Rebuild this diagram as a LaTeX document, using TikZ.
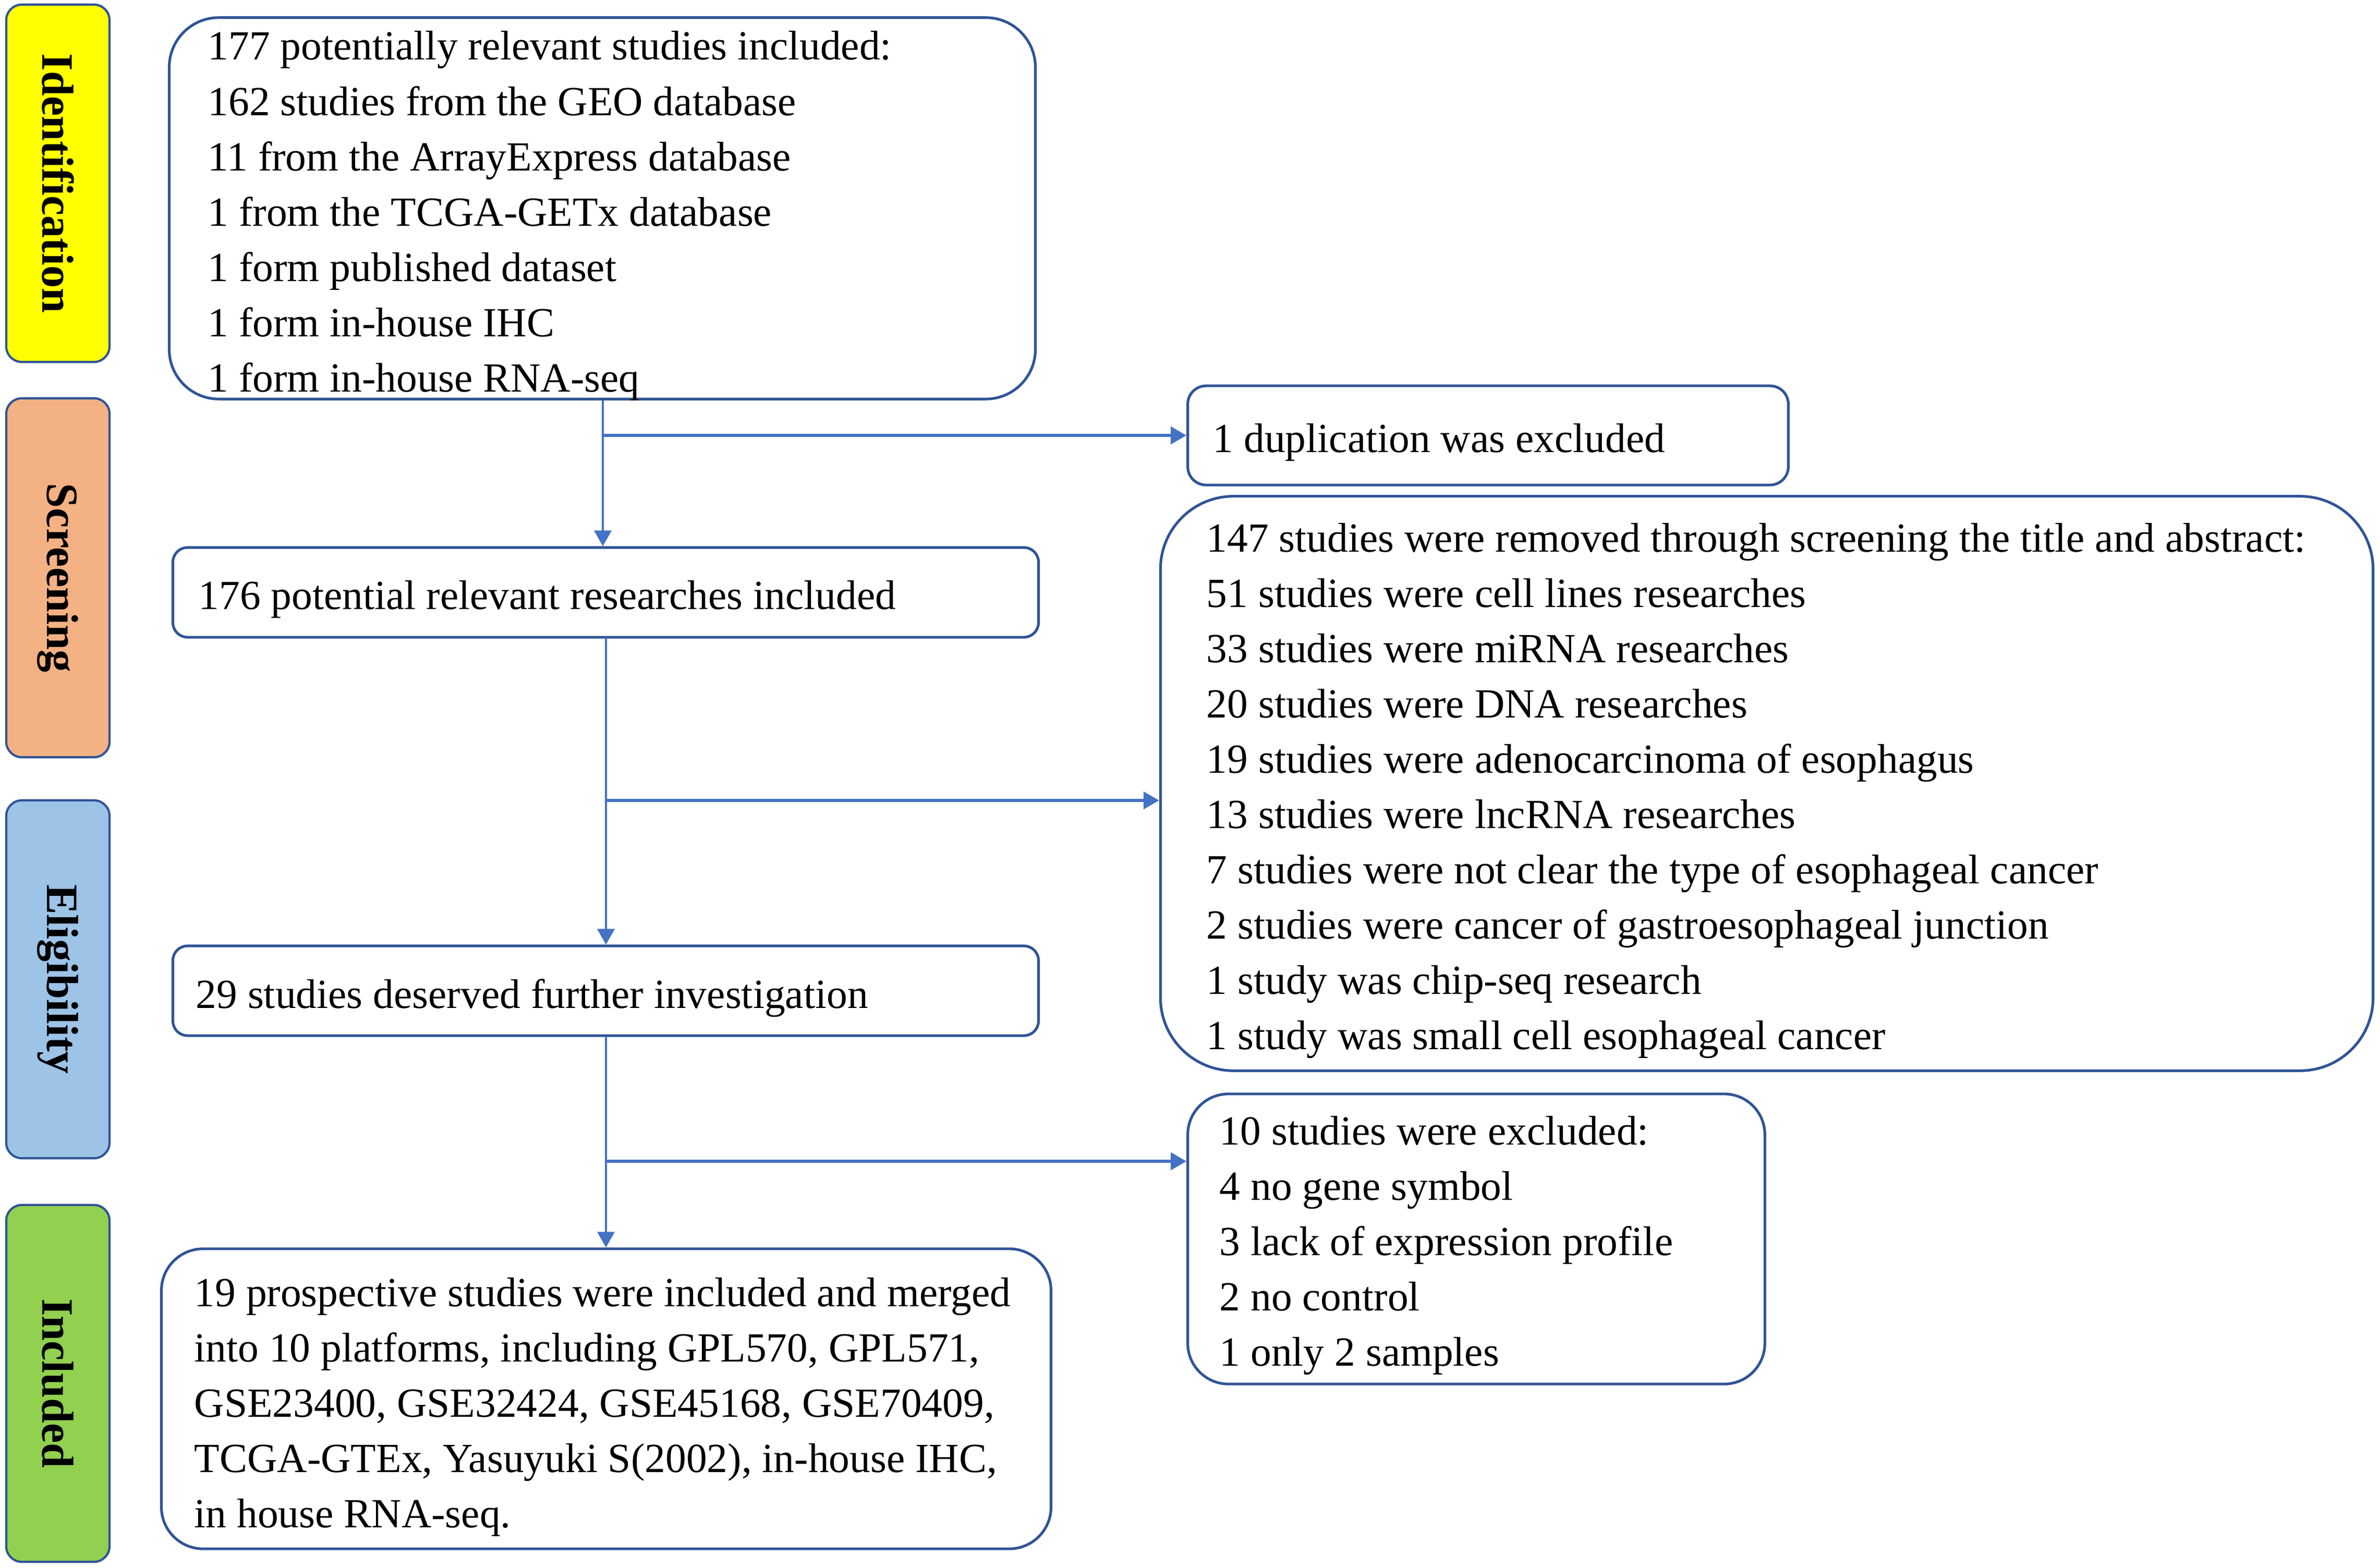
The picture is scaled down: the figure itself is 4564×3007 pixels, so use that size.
\documentclass[tikz,border=0pt]{standalone}
\usepackage{fontspec}
\setmainfont{Liberation Serif}
\usetikzlibrary{arrows.meta}
\definecolor{bordc}{HTML}{2F5496}
\definecolor{arrc}{HTML}{4472C4}
\definecolor{cyel}{HTML}{FFFF00}
\definecolor{corg}{HTML}{F4B183}
\definecolor{cblu}{HTML}{9DC3E6}
\definecolor{cgrn}{HTML}{92D050}
\newcommand\txfont{\fontsize{22.6pt}{30.16pt}\selectfont}
\newcommand\labfont{\fontsize{24.5pt}{30pt}\selectfont\bfseries}
\newcommand\lns[1]{\begin{tabular}[t]{@{}l@{}}#1\end{tabular}}
\tikzset{
  boxn/.style={draw=bordc, line width=1.45pt, fill=white, inner sep=0pt},
  labn/.style={draw=bordc, line width=1.2pt, inner sep=0pt, rounded corners=0.3cm,
    minimum width=1.98cm},
  labtxt/.style={rotate=-90, font=\labfont, inner sep=0pt},
  txt/.style={anchor=base west, inner sep=0pt, font=\txfont},
  trunk/.style={draw=arrc, line width=1.1pt, -{Triangle[length=0.3cm,width=0.33cm]}},
  branch/.style={draw=arrc, line width=1.6pt, -{Triangle[length=0.3cm,width=0.33cm]}},
}
\begin{document}
\begin{tikzpicture}[x=0.01cm, y=-0.01cm]
\path[fill=white, use as bounding box] (0,0) rectangle (4564,3007);

% stage labels
\node[labn, fill=cyel, minimum height=6.85cm] (L1) at (111,351.5) {};
\node[labtxt] (L1t) at (L1.center) {Identification};
\node[labn, fill=corg, minimum height=6.88cm] (L2) at (111,1108) {};
\node[labtxt] (L2t) at (L2.center) {Screening};
\node[labn, fill=cblu, minimum height=6.86cm] (L3) at (111,1878) {};
\node[labtxt] (L3t) at (L3.center) {Eligibility};
\node[labn, fill=cgrn, minimum height=6.84cm] (L4) at (111,2653) {};
\node[labtxt] (L4t) at (L4.center) {Included};

% boxes
\node[boxn, rounded corners=0.95cm, minimum width=16.60cm, minimum height=7.31cm] (b1) at (1155,399.5) {};
\node[boxn, rounded corners=0.35cm, minimum width=11.51cm, minimum height=1.90cm] (dup) at (2853.5,835) {};
\node[boxn, rounded corners=0.28cm, minimum width=16.59cm, minimum height=1.72cm] (b2) at (1161.5,1136) {};
\node[boxn, rounded corners=1.4cm, minimum width=23.24cm, minimum height=11.01cm] (ex147) at (3388,1502.5) {};
\node[boxn, rounded corners=0.28cm, minimum width=16.59cm, minimum height=1.72cm] (b3) at (1161.5,1900) {};
\node[boxn, rounded corners=0.78cm, minimum width=11.06cm, minimum height=5.56cm] (ex10) at (2831,2376) {};
\node[boxn, rounded corners=0.8cm, minimum width=17.05cm, minimum height=5.75cm] (b4) at (1162.5,2682.5) {};

% texts
\node[txt] (b1t) at (398,115) {\lns{177 potentially relevant studies included:\\
162 studies from the GEO database\\
11 from the ArrayExpress database\\
1 from the TCGA-GETx database\\
1 form published dataset\\
1 form in-house IHC\\
1 form in-house RNA-seq}};
\node[txt] (dupt) at (2325,867) {1 duplication was excluded};
\node[txt] (b2t) at (380,1168) {176 potential relevant researches included};
\node[txt] (ex147t) at (2313,1058) {\lns{147 studies were removed through screening the title and abstract:\\
51 studies were cell lines researches\\
33 studies were miRNA researches\\
20 studies were DNA researches\\
19 studies were adenocarcinoma of esophagus\\
13 studies were lncRNA researches\\
7 studies were not clear the type of esophageal cancer\\
2 studies were cancer of gastroesophageal junction\\
1 study was chip-seq research\\
1 study was small cell esophageal cancer}};
\node[txt] (b3t) at (375,1933) {29 studies deserved further investigation};
\node[txt] (ex10t) at (2338,2195) {\lns{10 studies were excluded:\\
4 no gene symbol\\
3 lack of expression profile\\
2 no control\\
1 only 2 samples}};
\node[txt] (b4t) at (372,2505) {\lns{19 prospective studies were included and merged\\
into 10 platforms, including GPL570, GPL571,\\
GSE23400, GSE32424, GSE45168, GSE70409,\\
TCGA-GTEx, Yasuyuki S(2002), in-house IHC,\\
in house RNA-seq.}};

% connectors
\coordinate (t1) at (1156,835);
\coordinate (t2) at (1162,1535);
\coordinate (t3) at (1162,2227);
\draw[trunk] (b1.south -| t1) -- (b2.north -| t1);
\draw[branch] (t1) -- (dup.west);
\draw[trunk] (b2.south -| t2) -- (b3.north -| t2);
\draw[branch] (t2) -- (t2 -| ex147.west);
\draw[trunk] (b3.south -| t3) -- (b4.north -| t3);
\draw[branch] (t3) -- (t3 -| ex10.west);
\end{tikzpicture}
\end{document}
